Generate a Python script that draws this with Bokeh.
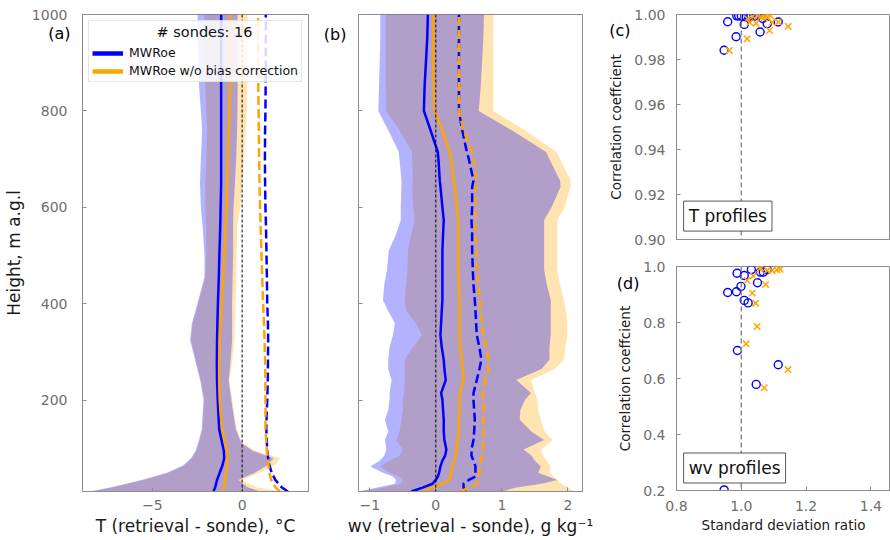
from bokeh.plotting import figure
from bokeh.layouts import row, column
from bokeh.models import (Range1d, FixedTicker, Label, Legend, LegendItem, Span,
                          NumeralTickFormatter, LinearAxis)
from bokeh.embed import file_html
from bokeh.resources import INLINE

# ---------------- data ----------------
# (a) temperature profiles
H_T = [11, 20, 35, 50, 65, 80, 95, 112, 140, 175, 200, 240, 280, 325, 360, 400, 455, 500, 560, 600,
       650, 700, 760, 800, 850, 900, 1000]
T_BIAS_MWR = [-1.60, -1.50, -1.40, -1.25, -1.10, -1.00, -1.02, -1.12, -1.28, -1.33, -1.36, -1.40, -1.41,
              -1.40, -1.38, -1.35, -1.30, -1.27, -1.22, -1.20, -1.17, -1.17, -1.17, -1.17, -1.17, -1.17, -1.17]
T_BIAS_NOBC = [-1.08, -1.00, -0.95, -0.90, -0.85, -0.82, -0.85, -0.95, -1.10, -1.20, -1.25, -1.28, -1.28,
               -1.25, -1.20, -1.15, -1.05, -1.00, -0.92, -0.88, -0.84, -0.80, -0.75, -0.70, -0.67, -0.65, -0.65]
T_RMSE_MWR = [2.55, 2.20, 1.85, 1.65, 1.52, 1.45, 1.40, 1.38, 1.35, 1.37, 1.40, 1.43, 1.44, 1.45, 1.44,
              1.40, 1.38, 1.36, 1.33, 1.30, 1.28, 1.27, 1.28, 1.30, 1.31, 1.32, 1.32]
T_RMSE_NOBC = [2.10, 1.85, 1.62, 1.52, 1.47, 1.42, 1.38, 1.35, 1.30, 1.30, 1.30, 1.30, 1.28, 1.25, 1.22,
               1.17, 1.12, 1.08, 1.03, 1.00, 0.97, 0.95, 0.93, 0.92, 0.90, 0.89, 0.89]
T_LO_MWR = [-8.5, -7.3, -5.6, -4.2, -3.3, -2.85, -2.6, -2.45, -2.25, -2.2, -2.15, -2.33, -2.6, -2.9, -2.8,
            -2.5, -2.1, -2.1, -2.2, -2.3, -2.35, -2.3, -2.23, -2.3, -2.4, -2.45, -2.48]
T_HI_MWR = [1.0, 0.3, -0.2, 0.7, 1.4, 1.75, 0.6, -0.05, -0.35, -0.5, -0.6, -0.75, -0.65, -0.56, -0.56,
            -0.56, -0.53, -0.5, -0.5, -0.48, -0.4, -0.33, -0.28, -0.26, -0.25, -0.25, -0.25]
T_LO_NOBC = [-8.4, -7.2, -5.5, -4.1, -3.2, -2.8, -2.55, -2.4, -2.2, -2.15, -2.1, -2.3, -2.55, -2.85, -2.75,
             -2.45, -2.05, -2.0, -2.0, -2.05, -2.05, -2.0, -1.95, -2.0, -2.05, -2.1, -2.1]
T_HI_NOBC = [2.2, 0.8, -0.05, 1.0, 1.8, 2.15, 0.8, 0.0, -0.3, -0.45, -0.55, -0.7, -0.55, -0.43, -0.4,
             -0.37, -0.33, -0.3, -0.28, -0.1, 0.0, 0.1, 0.2, 0.25, 0.28, 0.3, 0.31]

# (b) water vapour profiles
H_WV = [11, 19, 27, 35, 42, 50, 63, 75, 85, 98, 118, 135, 160, 180, 201, 215, 242, 265, 284, 310,
        335, 360, 385, 408, 440, 470, 511, 545, 574, 600, 643, 656, 700, 715, 760, 800, 850, 900, 950, 1000]
WV_BIAS_MWR = [-0.37, -0.2, -0.05, 0.0, 0.03, 0.05, 0.07, 0.1, 0.14, 0.16,
               0.13, 0.12, 0.12, 0.11, 0.1, 0.08, 0.15, 0.13, 0.12, 0.09,
               0.07, 0.08, 0.09, 0.1, 0.1, 0.1, 0.1, 0.11, 0.12, 0.1,
               0.07, 0.06, 0.04, 0.03, -0.08, -0.18, -0.17, -0.15, -0.13, -0.12]
WV_BIAS_NOBC = [-0.2, -0.05, 0.1, 0.2, 0.22, 0.23, 0.25, 0.28, 0.3, 0.31,
                0.33, 0.35, 0.35, 0.36, 0.36, 0.36, 0.42, 0.41, 0.39, 0.37,
                0.36, 0.36, 0.36, 0.36, 0.35, 0.34, 0.34, 0.34, 0.34, 0.32,
                0.29, 0.27, 0.23, 0.21, 0.1, -0.02, -0.03, -0.04, -0.04, -0.04]
WV_RMSE_MWR = [0.45, 0.42, 0.42, 0.5, 0.6, 0.6, 0.6, 0.57, 0.54, 0.54,
               0.57, 0.58, 0.59, 0.58, 0.57, 0.57, 0.62, 0.66, 0.69, 0.66,
               0.62, 0.61, 0.6, 0.59, 0.57, 0.56, 0.55, 0.55, 0.54, 0.55,
               0.55, 0.57, 0.5, 0.47, 0.4, 0.35, 0.35, 0.35, 0.35, 0.35]
WV_RMSE_NOBC = [0.37, 0.5, 0.62, 0.65, 0.65, 0.66, 0.67, 0.68, 0.7, 0.71,
                0.72, 0.72, 0.72, 0.72, 0.72, 0.71, 0.75, 0.8, 0.8, 0.76,
                0.72, 0.7, 0.68, 0.67, 0.64, 0.62, 0.61, 0.6, 0.6, 0.6,
                0.6, 0.61, 0.57, 0.55, 0.42, 0.35, 0.35, 0.35, 0.35, 0.35]
WV_LO_MWR = [-1.17, -0.9, -0.62, -0.6, -0.65, -0.8, -0.99, -0.85, -0.78, -0.75,
             -0.77, -0.72, -0.77, -0.72, -0.7, -0.7, -0.67, -0.72, -0.72, -0.7,
             -0.65, -0.62, -0.72, -0.8, -0.78, -0.74, -0.71, -0.6, -0.53, -0.53,
             -0.52, -0.52, -0.55, -0.56, -0.72, -0.87, -0.86, -0.85, -0.84, -0.84]
WV_LO_NOBC = [-1.17, -0.8, -0.52, -0.5, -0.55, -0.7, -0.84, -0.7, -0.55, -0.5,
              -0.6, -0.55, -0.52, -0.5, -0.5, -0.48, -0.47, -0.47, -0.47, -0.35,
              -0.21, -0.3, -0.45, -0.47, -0.45, -0.43, -0.42, -0.37, -0.32, -0.34,
              -0.36, -0.35, -0.36, -0.36, -0.55, -0.75, -0.76, -0.76, -0.76, -0.76]
WV_HI_MWR = [1.0, 1.2, 1.6, 1.84, 1.7, 1.55, 1.59, 1.5, 1.45, 1.33,
             1.64, 1.45, 1.27, 1.28, 1.35, 1.44, 1.22, 1.6, 1.72, 1.72,
             1.74, 1.74, 1.74, 1.74, 1.68, 1.64, 1.64, 1.64, 1.64, 1.75,
             1.89, 1.88, 1.72, 1.67, 1.15, 0.65, 0.68, 0.7, 0.72, 0.73]
WV_HI_NOBC = [2.1, 2.0, 1.9, 1.84, 1.78, 1.72, 1.74, 1.68, 1.62, 1.6,
              1.77, 1.65, 1.59, 1.55, 1.54, 1.5, 1.44, 1.8, 1.94, 1.96,
              1.99, 1.99, 1.97, 1.94, 1.88, 1.84, 1.84, 1.84, 1.84, 1.95,
              2.04, 2.04, 1.88, 1.83, 1.35, 0.87, 0.87, 0.87, 0.87, 0.87]

# (c) T profiles: standard deviation ratio vs correlation coefficient
T_SDR_MWR = [0.958, 0.984, 0.947, 1.009, 1.058, 1.080, 1.114, 1.066, 0.986, 0.992, 1.000, 1.030,
             1.050, 1.015, 1.040, 1.025]
T_R_MWR = [0.9968, 0.9901, 0.9841, 0.9956, 0.9922, 0.9959, 0.9967, 0.9982, 0.9994, 0.9994, 0.9993,
           0.9994, 0.9995, 0.9990, 0.9992, 0.9988]
T_SDR_NOBC = [0.963, 1.018, 1.087, 1.145, 1.046, 1.026, 1.114, 1.095, 1.060, 1.075, 1.080, 1.050,
              1.035, 1.070, 1.020, 1.090]
T_R_NOBC = [0.9840, 0.9892, 0.9929, 0.9947, 0.9961, 0.9964, 0.9967, 0.9965, 0.9990, 0.9993, 0.9988,
            0.9995, 0.9992, 0.9985, 0.9980, 0.9995]

# (d) wv profiles
WV_SDR_MWR = [0.987, 1.009, 1.031, 1.059, 1.068, 1.080, 1.050, 0.999, 0.958, 0.985, 1.009, 1.021,
              0.988, 1.114, 1.046, 0.947]
WV_R_MWR = [0.976, 0.968, 0.989, 0.980, 0.980, 0.989, 0.942, 0.929, 0.907, 0.910, 0.879, 0.870,
            0.700, 0.649, 0.579, 0.202]
WV_SDR_NOBC = [1.018, 1.037, 1.075, 1.034, 1.044, 1.049, 1.015, 1.144, 1.071, 1.057, 1.095, 1.110,
               1.120, 1.080, 1.060]
WV_R_NOBC = [0.950, 0.966, 0.936, 0.905, 0.869, 0.786, 0.724, 0.632, 0.567, 0.992, 0.985, 0.988,
             0.990, 0.986, 0.995]

N_SONDES = 16
LBL_MWR = "MWRoe"
LBL_NOBC = "MWRoe w/o bias correction"
HEIGHT_TICKS = [200, 400, 600, 800, 1000]
CORR_T_TICKS = [0.90, 0.92, 0.94, 0.96, 0.98, 1.00]
CORR_WV_TICKS = [0.2, 0.4, 0.6, 0.8, 1.0]
SDR_TICKS = [0.8, 1.0, 1.2, 1.4]

# ---------------- style ----------------
FONT = "DejaVu Sans"
BLUE = "#0000ff"
ORANGE = "#ffa500"
SPINE = "#8c8c8c"
TICKC = "#6e6e6e"
TXT = "#1a1a1a"


def style_axis(ax, tick_size="14px", label_size="17px"):
    ax.axis_line_color = SPINE
    ax.major_tick_line_color = SPINE
    ax.major_tick_in = 4
    ax.major_tick_out = 0
    ax.minor_tick_line_color = None
    ax.major_label_text_color = TICKC
    ax.major_label_text_font = FONT
    ax.major_label_text_font_size = tick_size
    ax.axis_label_text_font = FONT
    ax.axis_label_text_font_size = label_size
    ax.axis_label_text_font_style = "normal"
    ax.axis_label_text_color = TXT


def style(p, tick_size="14px", label_size="17px"):
    p.outline_line_color = SPINE
    p.outline_line_width = 1
    p.grid.visible = False
    for ax in p.axis:
        style_axis(ax, tick_size, label_size)


def tag_axis(p, pos, text, standoff):
    """Panel tag such as '(a)' drawn as a label-only axis outside the frame."""
    ax = LinearAxis(ticker=FixedTicker(ticks=[pos]), major_label_overrides={pos: text},
                    axis_line_color=None, major_tick_line_color=None, minor_tick_line_color=None,
                    major_tick_in=0, major_tick_out=0,
                    major_label_standoff=standoff, major_label_text_font=FONT,
                    major_label_text_font_size="16px", major_label_text_color="#000000")
    p.add_layout(ax, "left")
    return ax


# ---------------- (a) ----------------
pa = figure(width=320, height=540, x_range=Range1d(-8.9, 3.7), y_range=Range1d(11, 1000),
            output_backend="svg", toolbar_location=None,
            min_border_left=82, min_border_right=12, min_border_top=14, min_border_bottom=49)
pa.harea(y=H_T, x1=T_LO_NOBC, x2=T_HI_NOBC, fill_color=ORANGE, fill_alpha=0.3)
pa.harea(y=H_T, x1=T_LO_MWR, x2=T_HI_MWR, fill_color=BLUE, fill_alpha=0.3)
pa.add_layout(Span(location=0, dimension="height", line_color="black", line_dash="3 2", line_width=1))
pa.line(T_BIAS_MWR, H_T, line_color=BLUE, line_width=2.5)
pa.line(T_BIAS_NOBC, H_T, line_color=ORANGE, line_width=2.5)
pa.line(T_RMSE_MWR, H_T, line_color=BLUE, line_width=2.5, line_dash="9 4")
pa.line(T_RMSE_NOBC, H_T, line_color=ORANGE, line_width=2.5, line_dash="9 4")
# single-point (invisible) lines used only as thick legend swatches
r_leg1 = pa.line(T_BIAS_MWR[:1], H_T[:1], line_color=BLUE, line_width=4.5)
r_leg2 = pa.line(T_BIAS_NOBC[:1], H_T[:1], line_color=ORANGE, line_width=4.5)
style(pa)
pa.xaxis.ticker = FixedTicker(ticks=[-5, 0])
pa.xaxis.major_label_overrides = {-5: "\u22125", 0: "0"}
pa.xaxis.axis_label = "T (retrieval - sonde), \u00b0C"
pa.xaxis.major_label_standoff = 8
pa.xaxis.axis_label_standoff = 3
# innermost y axis: tick marks only
pa.yaxis.ticker = FixedTicker(ticks=HEIGHT_TICKS)
pa.yaxis.major_label_overrides = {t: "" for t in HEIGHT_TICKS}
pa.yaxis.major_label_standoff = 0
tag_axis(pa, 960, "(a)", 12)
ax_h = LinearAxis(ticker=FixedTicker(ticks=HEIGHT_TICKS), axis_label="Height, m a.g.l")
style_axis(ax_h)
ax_h.axis_line_color = None
ax_h.major_tick_line_color = None
ax_h.major_label_standoff = -22
ax_h.axis_label_standoff = 5
pa.add_layout(ax_h, "left")

leg = Legend(items=[LegendItem(label=LBL_MWR, renderers=[r_leg1]),
                    LegendItem(label=LBL_NOBC, renderers=[r_leg2])],
             location="top_left", margin=6, padding=3, spacing=3,
             title="\u00a0" * 14 + "# sondes: %d" % N_SONDES,
             title_text_font=FONT, title_text_font_size="14.5px", title_text_font_style="normal",
             title_text_color="#111111", title_standoff=5,
             label_text_font=FONT, label_text_font_size="12.5px", label_text_color="#111111",
             glyph_width=31, glyph_height=14, label_standoff=6, label_height=14,
             border_line_color="#cccccc", border_line_width=1,
             background_fill_color="white", background_fill_alpha=0.85)
pa.add_layout(leg)

# ---------------- (b) ----------------
pb = figure(width=275, height=540, x_range=Range1d(-1.17, 2.22), y_range=Range1d(11, 1000),
            output_backend="svg", toolbar_location=None,
            min_border_left=35, min_border_right=13, min_border_top=14, min_border_bottom=49)
pb.harea(y=H_WV, x1=WV_LO_NOBC, x2=WV_HI_NOBC, fill_color=ORANGE, fill_alpha=0.3)
pb.harea(y=H_WV, x1=WV_LO_MWR, x2=WV_HI_MWR, fill_color=BLUE, fill_alpha=0.3)
pb.add_layout(Span(location=0, dimension="height", line_color="black", line_dash="3 2", line_width=1))
pb.line(WV_BIAS_MWR, H_WV, line_color=BLUE, line_width=2.5)
pb.line(WV_BIAS_NOBC, H_WV, line_color=ORANGE, line_width=2.5)
pb.line(WV_RMSE_MWR, H_WV, line_color=BLUE, line_width=2.5, line_dash="9 4")
pb.line(WV_RMSE_NOBC, H_WV, line_color=ORANGE, line_width=2.5, line_dash="9 4")
style(pb)
pb.xaxis.ticker = FixedTicker(ticks=[-1, 0, 1, 2])
pb.xaxis.major_label_overrides = {-1: "\u22121", 0: "0", 1: "1", 2: "2"}
pb.xaxis.axis_label = "wv (retrieval - sonde), g kg\u207b\u00b9"
pb.xaxis.major_label_standoff = 8
pb.xaxis.axis_label_standoff = 3
pb.yaxis.ticker = FixedTicker(ticks=HEIGHT_TICKS)
pb.yaxis.major_label_overrides = {t: "" for t in HEIGHT_TICKS}
pb.yaxis.major_label_standoff = 0
tag_axis(pb, 958, "(b)", 12)

# ---------------- (c) ----------------
X_RANGE_SDR = (0.8, 1.4605)
pc = figure(width=295, height=251, x_range=Range1d(*X_RANGE_SDR), y_range=Range1d(0.9, 1.0),
            output_backend="svg", toolbar_location=None,
            min_border_left=81, min_border_right=0, min_border_top=14, min_border_bottom=12)
pc.add_layout(Span(location=1.0, dimension="height", line_color="#8c8c8c", line_dash="5 3", line_width=1.5))
pc.scatter(T_SDR_MWR, T_R_MWR, marker="circle", size=8, fill_color=None, line_color=BLUE, line_width=1.4)
pc.scatter(T_SDR_NOBC, T_R_NOBC, marker="x", size=9, line_color=ORANGE, line_width=1.5)
style(pc, tick_size="14px", label_size="13.5px")
pc.xaxis.visible = False
pc.yaxis.ticker = FixedTicker(ticks=CORR_T_TICKS)
pc.yaxis.formatter = NumeralTickFormatter(format="0.00")
pc.yaxis.axis_label = "Correlation coeffcient"
pc.yaxis.major_label_standoff = 11
pc.yaxis.axis_label_standoff = 7
tag_axis(pc, 0.9927, "(c)", -25)
pc.add_layout(Label(x=0.822, y=0.9104, text="T profiles", text_align="left", text_baseline="middle",
                    text_font=FONT, text_font_size="17px", text_color="#111111",
                    padding=5, border_line_color="#555555", border_line_width=1,
                    background_fill_color="white"))

# ---------------- (d) ----------------
pd_ = figure(width=295, height=289, x_range=Range1d(*X_RANGE_SDR), y_range=Range1d(0.2, 1.0),
             output_backend="svg", toolbar_location=None,
             min_border_left=81, min_border_right=0, min_border_top=15, min_border_bottom=50)
pd_.add_layout(Span(location=1.0, dimension="height", line_color="#8c8c8c", line_dash="5 3", line_width=1.5))
pd_.scatter(WV_SDR_MWR, WV_R_MWR, marker="circle", size=8, fill_color=None, line_color=BLUE, line_width=1.4)
pd_.scatter(WV_SDR_NOBC, WV_R_NOBC, marker="x", size=9, line_color=ORANGE, line_width=1.5)
style(pd_, tick_size="14px", label_size="13.5px")
pd_.yaxis.ticker = FixedTicker(ticks=CORR_WV_TICKS)
pd_.yaxis.formatter = NumeralTickFormatter(format="0.0")
pd_.xaxis.ticker = FixedTicker(ticks=SDR_TICKS)
pd_.xaxis.formatter = NumeralTickFormatter(format="0.0")
pd_.yaxis.axis_label = "Correlation coeffcient"
pd_.xaxis.axis_label = "Standard deviation ratio"
pd_.yaxis.major_label_standoff = 11
pd_.yaxis.axis_label_standoff = 7
pd_.xaxis.major_label_standoff = 10
pd_.xaxis.axis_label_standoff = 3
tag_axis(pd_, 0.941, "(d)", -25)
pd_.add_layout(Label(x=0.822, y=0.2804, text="wv profiles", text_align="left", text_baseline="middle",
                     text_font=FONT, text_font_size="17px", text_color="#111111",
                     padding=5, border_line_color="#555555", border_line_width=1,
                     background_fill_color="white"))

layout = row(pa, pb, column(pc, pd_, spacing=0), spacing=0)
open("out.html", "w").write(file_html(layout, INLINE))
